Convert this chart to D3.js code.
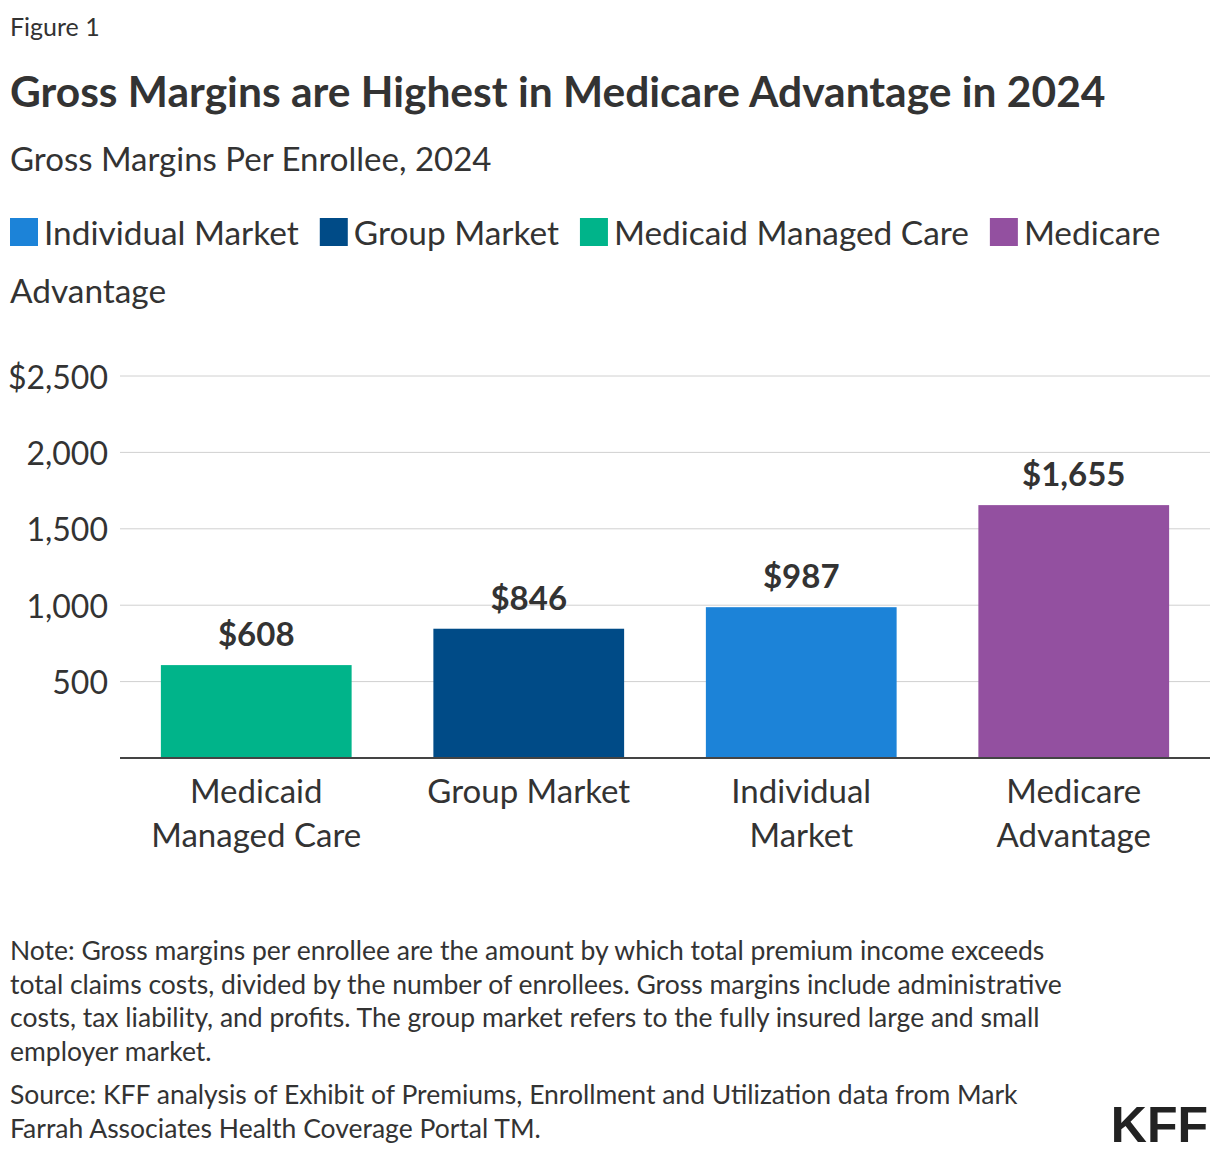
<!DOCTYPE html>
<html>
<head>
<meta charset="utf-8">
<script src="https://cdn.jsdelivr.net/npm/d3@7"></script>
<style>
  body { margin: 0; background: #fff; }
  svg text { font-family: "Source Sans Pro", Lato, "Noto Sans", sans-serif; fill: #333; }
</style>
</head>
<body>
<svg id="chart" width="1220" height="1156"></svg>
<script>
// data
var categories = ["Medicaid Managed Care", "Group Market", "Individual Market", "Medicare Advantage"];
var catLines = [["Medicaid", "Managed Care"], ["Group Market"], ["Individual", "Market"], ["Medicare", "Advantage"]];
var values = [608, 846, 987, 1655];
var legendNames = ["Individual Market", "Group Market", "Medicaid Managed Care", "Medicare Advantage"];
var colors = {
  "Individual Market": "#1c83d8",
  "Group Market": "#004b87",
  "Medicaid Managed Care": "#00b48a",
  "Medicare Advantage": "#9350a0"
};
var yTicks = [500, 1000, 1500, 2000, 2500];
var noteLines = [
  "Note: Gross margins per enrollee are the amount by which total premium income exceeds",
  "total claims costs, divided by the number of enrollees. Gross margins include administrative",
  "costs, tax liability, and profits. The group market refers to the fully insured large and small",
  "employer market."
];
var sourceLines = [
  "Source: KFF analysis of Exhibit of Premiums, Enrollment and Utilization data from Mark",
  "Farrah Associates Health Coverage Portal TM."
];

var svg = d3.select("#chart");

svg.append("text").attr("x", 10).attr("y", 36).style("font-size", "25px").text("Figure 1");
svg.append("text").attr("x", 10).attr("y", 107).style("font-size", "42.5px").style("font-weight", "bold")
  .text("Gross Margins are Highest in Medicare Advantage in 2024");
svg.append("text").attr("x", 10).attr("y", 171).style("font-size", "33px")
  .text("Gross Margins Per Enrollee, 2024");

// legend, wraps word by word
var legend = svg.append("g");
var lx = 10, ly = 245, maxX = 1200, lineH = 58, fs = 33.4;
legendNames.forEach(function(name) {
  legend.append("rect").attr("x", lx).attr("y", ly - 27).attr("width", 28).attr("height", 28)
    .attr("fill", colors[name]);
  lx += 34;
  var words = name.split(" ");
  var t = legend.append("text").attr("x", lx).attr("y", ly).style("font-size", fs + "px");
  var cur = "";
  words.forEach(function(w) {
    var test = cur ? cur + " " + w : w;
    t.text(test);
    if (lx + t.node().getComputedTextLength() > maxX && cur) {
      t.text(cur);
      ly += lineH; lx = 10;
      t = legend.append("text").attr("x", lx).attr("y", ly).style("font-size", fs + "px").text(w);
      cur = w;
    } else {
      cur = test;
    }
  });
  lx += t.node().getComputedTextLength() + 21;
});

// chart area
var plotLeft = 120, plotRight = 1210, plotTop = 376, plotBottom = 758;
var x = d3.scaleBand().domain(categories).range([plotLeft, plotRight]).paddingInner(0.3).paddingOuter(0.15);
var y = d3.scaleLinear().domain([0, 2500]).range([plotBottom, plotTop]);

var grid = svg.append("g");
grid.selectAll("line").data(yTicks).enter().append("line")
  .attr("x1", plotLeft).attr("x2", plotRight)
  .attr("y1", function(d) { return y(d); }).attr("y2", function(d) { return y(d); })
  .attr("stroke", "#d0d0d0").attr("stroke-width", 1);

var yAxis = svg.append("g").attr("transform", "translate(" + plotLeft + ",0)")
  .call(d3.axisLeft(y).tickValues(yTicks).tickSize(0).tickPadding(12)
    .tickFormat(function(d) { return (d === 2500 ? "$" : "") + d3.format(",")(d); }));
yAxis.select(".domain").remove();
yAxis.selectAll("text").style("font-size", "32px").attr("fill", "#333").attr("dy", "0.38em");

svg.selectAll(".bar").data(categories).enter().append("rect")
  .attr("class", "bar")
  .attr("x", function(d) { return x(d); })
  .attr("width", x.bandwidth())
  .attr("y", function(d, i) { return y(values[i]); })
  .attr("height", function(d, i) { return plotBottom - y(values[i]); })
  .attr("fill", function(d) { return colors[d]; });

svg.selectAll(".val").data(categories).enter().append("text")
  .attr("class", "val")
  .attr("x", function(d) { return x(d) + x.bandwidth() / 2; })
  .attr("y", function(d, i) { return y(values[i]) - 19; })
  .attr("text-anchor", "middle")
  .style("font-size", "33px").style("font-weight", "bold")
  .text(function(d, i) { return "$" + d3.format(",")(values[i]); });

svg.append("line").attr("x1", plotLeft).attr("x2", plotRight).attr("y1", plotBottom).attr("y2", plotBottom)
  .attr("stroke", "#444").attr("stroke-width", 2);

var xl = svg.selectAll(".xl").data(categories).enter().append("text")
  .attr("class", "xl")
  .attr("text-anchor", "middle")
  .style("font-size", "33px");
xl.each(function(d, i) {
  var el = d3.select(this);
  catLines[i].forEach(function(line, j) {
    el.append("tspan").attr("x", x(d) + x.bandwidth() / 2).attr("y", 803 + j * 44).text(line);
  });
});

svg.append("g").selectAll("text").data(noteLines).enter().append("text")
  .attr("x", 10).attr("y", function(d, i) { return 960 + i * 33.5; })
  .style("font-size", "26.5px").text(function(d) { return d; });
svg.append("g").selectAll("text").data(sourceLines).enter().append("text")
  .attr("x", 10).attr("y", function(d, i) { return 1104 + i * 33.5; })
  .style("font-size", "26.5px").text(function(d) { return d; });

svg.append("text").attr("x", 1208).attr("y", 1142).attr("text-anchor", "end")
  .style("font-size", "50px").style("font-weight", "900").style("font-family", "'Liberation Sans', Arial, sans-serif")
  .style("fill", "#222").text("KFF");
</script>
</body>
</html>
